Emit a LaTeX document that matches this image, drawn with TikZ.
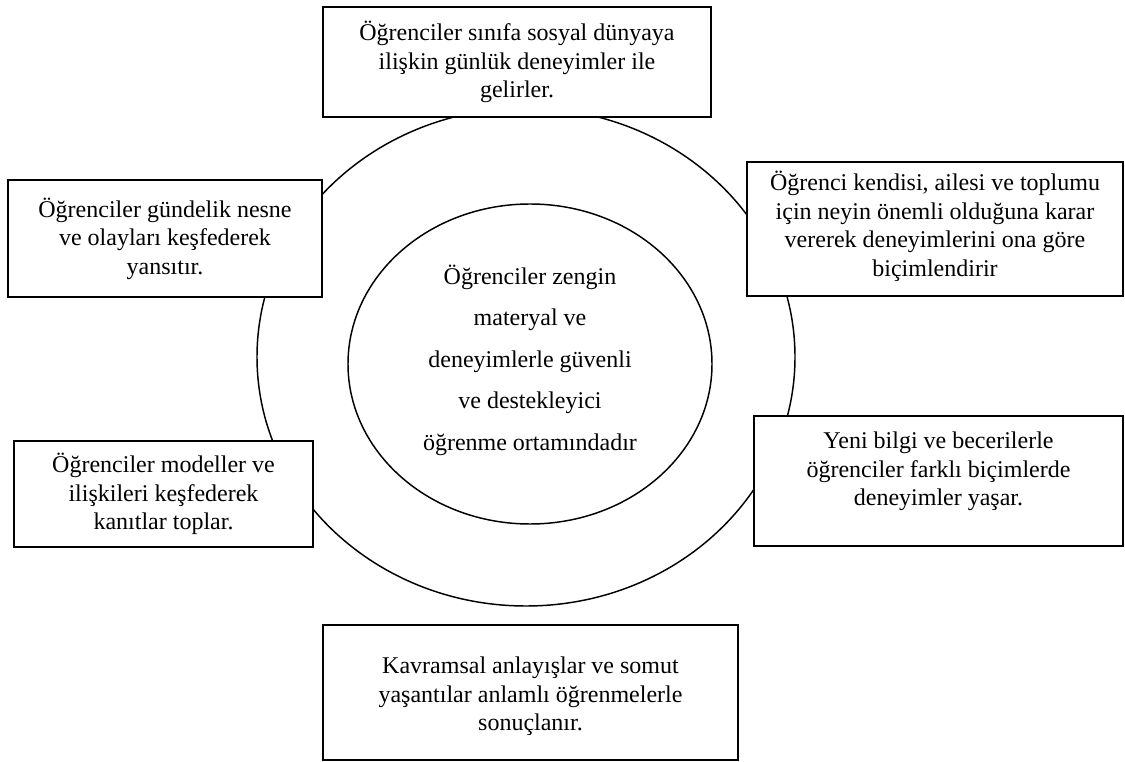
\documentclass[tikz,border=0pt]{standalone}
\usepackage{fontspec}
\setmainfont{Liberation Serif}
\usetikzlibrary{shapes.geometric}
\tikzset{
  box/.style={draw, line width=1.3pt, fill=white, rectangle, inner sep=0pt},
  ring/.style={draw, line width=1.1pt, ellipse, inner sep=0pt},
  txt/.style={align=center, inner sep=0pt, font=\fontsize{18}{21.4}\selectfont},
  coretxt/.style={align=center, inner sep=0pt, font=\fontsize{18}{31.1}\selectfont}
}
\begin{document}
\begin{tikzpicture}[x=0.75pt, y=-0.75pt]
\useasboundingbox (0,0) rectangle (1125,762);

% two nested ellipses
\node[ring, minimum width=403.5pt, minimum height=373.5pt] (outer) at (526,357) {};
\node[ring, minimum width=273pt, minimum height=240pt] (inner) at (530,364) {};
\node[coretxt] (coretext) at (530,360) {Öğrenciler zengin\\materyal ve\\deneyimlerle güvenli\\ve destekleyici\\öğrenme ortamındadır};

% surrounding boxes
\node[box, minimum width=291pt, minimum height=82.5pt] (top) at (517,62) {};
\node[txt] (toptext) at (top.center) {Öğrenciler sınıfa sosyal dünyaya\\ilişkin günlük deneyimler ile\\gelirler.};

\node[box, minimum width=235.5pt, minimum height=87.75pt] (lt) at (165,238.5) {};
\node[txt] (lttext) at (lt.center) {Öğrenciler gündelik nesne\\ve olayları keşfederek\\yansıtır.};

\node[box, minimum width=224.25pt, minimum height=79.5pt] (lb) at (163.5,494) {};
\node[txt] (lbtext) at (lb.center) {Öğrenciler modeller ve\\ilişkileri keşfederek\\kanıtlar toplar.};

\node[box, minimum width=282pt, minimum height=100.5pt] (rt) at (935,229) {};
\node[txt] (rttext) at ([yshift=2pt]rt.center) {Öğrenci kendisi, ailesi ve toplumu\\için neyin önemli olduğuna karar\\vererek deneyimlerini ona göre\\biçimlendirir};

\node[box, minimum width=276.75pt, minimum height=97.5pt] (rb) at (938.5,481) {};
\node[txt] (rbtext) at ([yshift=7pt]rb.center) {Yeni bilgi ve becerilerle\\öğrenciler farklı biçimlerde\\deneyimler yaşar.};

\node[box, minimum width=311.25pt, minimum height=101.25pt] (bot) at (530.5,692.5) {};
\node[txt] (bottext) at ([yshift=-3pt]bot.center) {Kavramsal anlayışlar ve somut\\yaşantılar anlamlı öğrenmelerle\\sonuçlanır.};
\end{tikzpicture}
\end{document}
